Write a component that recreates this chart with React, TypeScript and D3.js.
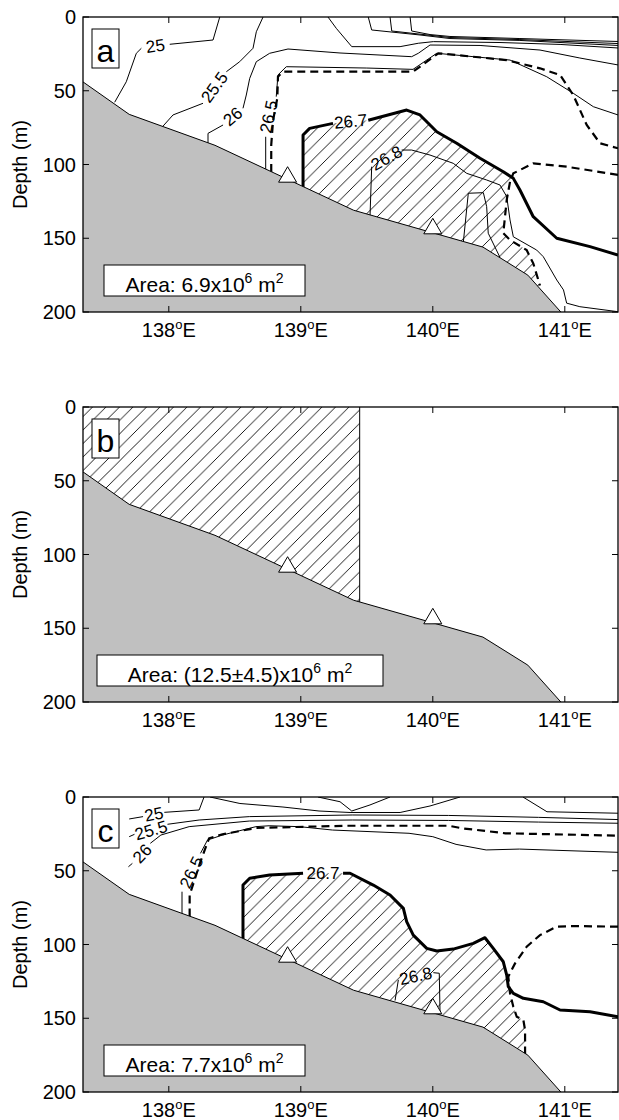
import * as d3 from "d3";

type P = [number, number] | null;

// axes
const lonDomain = [137.35, 141.403];
const lonTicks = [138, 139, 140, 141];
const depthTicks = [0, 50, 100, 150, 200];

// sea bed along the section and the two stations
const seabedLon = [137.35, 137.7, 138.35, 139.4, 140.38, 140.72, 140.97];
const seabedDepth = [44, 66, 87, 131, 156, 175, 200];
const stationLon = [138.9, 140.0];
const stationDepth = [112, 147];

const panelLetters = ["a", "b", "c"];
const areaValues = ["6.9", "(12.5\u00b14.5)", "7.7"];

// ---- panel a : contours (lon, depth), null = gap for a label
const a25: P[] = [[137.59, 57.8], [137.678, 43.9], [137.754, 24.6], [137.792, 21.2], null, [138.007, 18.5], [138.335, 15.6], [138.386, 0]];
const a255: P[] = [[137.951, 74.5], [138.032, 66.4], [138.259, 58.5], null, [138.436, 37.1], [138.537, 30.3], [138.638, 21.2], [138.663, 10], [138.714, 0]];
const a26: P[] = [[138.297, 86], [138.297, 78.9], [138.411, 73.2], null, [138.562, 61.9], [138.587, 52.9], [138.613, 41.6], [138.663, 30.3], [138.764, 24.6], [138.903, 21.7], [139.297, 24.4], [139.84, 26.9], [139.89, 24.6], [139.979, 19], [140.358, 19.3], [140.812, 22.4], [141.114, 27.8], [141.403, 32.5]];
const aTop1: P[] = [[139.206, 0], [139.269, 7.7], [139.386, 20.1], [139.752, 20.1], [139.89, 17.8], [140.004, 16.7], [140.509, 17.3], [140.964, 18.6], [141.403, 21]];
const aTop2: P[] = [[139.511, 0], [139.537, 8.8], [139.903, 12.2], [140.13, 14.6], [140.66, 15.9], [141.403, 19.3]];
const aTop3: P[] = [[139.676, 0], [139.689, 9.5], [140.13, 13.9], [140.66, 15.3], [141.403, 18]];
const aTop4: P[] = [[139.828, 0], [139.84, 9.5], [139.979, 11.9], [140.13, 13.2], [140.66, 14.6], [141.403, 16.6]];
const a265: P[] = [[138.734, 104], [138.734, 81.2], null, [138.814, 54], [138.827, 39.3], [138.89, 33.7], [139.1, 34], [139.5, 34.6], [139.85, 35.5], [140.03, 24.6], [140.585, 29.2], [140.863, 40.5], [141.064, 51.7], [141.216, 60.8], [141.403, 66.4]];
const aDashUp: P[] = [[138.776, 105], [138.776, 86.8], [138.79, 70], [138.822, 55.1], [138.827, 40.5], [138.865, 37.1], [139.85, 37.1], [140.042, 24.6], [140.56, 29.2], [140.812, 34.8], [140.964, 39.3], [141.064, 52.9], [141.166, 73.2], [141.267, 85.6], [141.403, 89]];
const a267: P[] = [[139.017, 117], [139.017, 80], [139.067, 75.5], [139.244, 72.1], null, [139.511, 70], [139.802, 63.1], [139.903, 66.4], [140.03, 77.8], [140.181, 85.6], [140.358, 95.8], [140.534, 104.9], [140.61, 109.4], [140.66, 117.3], [140.761, 135.4], [140.939, 150], [141.191, 155.7], [141.403, 161.4]];
const a268: P[] = [[139.524, 136], [139.537, 101.5], null, [139.764, 90.2], [139.84, 90.2], [139.979, 93.6], [140.155, 99.2], [140.257, 106], [140.408, 110.5], [140.509, 113.9], [140.56, 121.8], [140.585, 137.6], [140.61, 149], [140.787, 158], [140.837, 162.5], [140.939, 178.3], [140.99, 185], [141.014, 194], [141.114, 196.4], [141.403, 199.8]];
const aLoop: P[] = [[140.231, 153], [140.269, 119.5], [140.383, 119.1], [140.408, 128.6], [140.42, 146.6], [140.509, 163]];
const aDashLow: P[] = [[141.403, 107], [141.014, 101.5], [140.761, 99.2], [140.61, 106], [140.585, 111.7], [140.56, 124], [140.534, 146.6], [140.585, 151.2], [140.711, 158], [140.761, 167], [140.812, 182]];
const aLabels = [
  { t: "25", lon: 137.899, dep: 19.9, rot: -8 },
  { t: "25.5", lon: 138.348, dep: 47.8, rot: -54 },
  { t: "26", lon: 138.486, dep: 67.6, rot: -40 },
  { t: "26.5", lon: 138.76, dep: 67.6, rot: -78 },
  { t: "26.7", lon: 139.378, dep: 71, rot: -5 },
  { t: "26.8", lon: 139.651, dep: 95.8, rot: -29 },
];

// ---- panel b : hatched column
const bPatchLon = [137.35, 139.446];

// ---- panel c
const c25: P[] = [[137.7, 14.9], [137.805, 13.3], null, [137.966, 10.4], [138.23, 8.8], [138.267, 0]];
const c255: P[] = [[137.7, 26.9], [137.74, 25.3], null, [137.99, 18.5], [138.23, 15.6], [138.61, 13.3], [139.39, 12.2], [140.12, 12.5], [140.8, 13.8], [141.403, 15.3]];
const c26: P[] = [[137.694, 47.3], [137.724, 45], null, [137.86, 31.4], [137.94, 25.8], [138.154, 20.1], [138.61, 16.3], [139.39, 15.6], [140.12, 15.9], [140.8, 17], [141.403, 17.8]];
const cTop1: P[] = [[138.312, 0], [138.539, 4.4], [138.865, 6.8], [139.138, 9.5], [139.373, 10.5], [139.752, 10.5], [139.979, 6.1], [140.206, 0]];
const cTop2: P[] = [[139.13, 0], [139.297, 3.2], [139.386, 9.5], [139.524, 5.4], [139.676, 0]];
const cTop3: P[] = [[140.683, 0], [140.865, 10], [141.403, 11]];
const c265: P[] = [[138.1, 80], [138.1, 64.2], null, [138.24, 38.2], [138.293, 29.2], [138.406, 25.8], [138.66, 20.1], [138.76, 19.5], [138.99, 20.1], [139.24, 22.4], [139.82, 24.6], [140.0, 26.9], [140.176, 32.1], [140.404, 35.9], [140.656, 35.3], [141.403, 37.5]];
const cDashUp: P[] = [[138.158, 81], [138.158, 66.4], [138.24, 43.8], [138.305, 28], [138.406, 25.3], [138.66, 21], [139.34, 19.5], [140.12, 19.5], [140.22, 21.2], [140.55, 24.6], [141.403, 26.2]];
const c267: P[] = [[138.562, 97], [138.562, 59.7], [138.613, 55.1], [138.764, 52.9], [139.017, 51.7], null, [139.32, 51.7], [139.373, 51.7], [139.549, 59.7], [139.676, 66.4], [139.777, 75.5], [139.802, 84.5], [139.852, 93.6], [139.954, 102.6], [140.03, 104.4], [140.155, 103.1], [140.307, 99.2], [140.395, 95.4], [140.458, 102.6], [140.534, 111.7], [140.56, 120.7], [140.572, 128.6], [140.61, 133.1], [140.686, 136.5], [140.837, 138.8], [140.964, 144.4], [141.191, 145.6], [141.403, 149]];
const c268: P[] = [[139.714, 138], [139.739, 124], null, [140.004, 119.1], [140.049, 119.5], [140.055, 147.5]];
const cDashLow: P[] = [[141.403, 87.9], [141.064, 87.5], [140.939, 87.9], [140.812, 93.6], [140.711, 101.5], [140.623, 112.8], [140.572, 121.8], [140.585, 133.1], [140.61, 142.2], [140.636, 149], [140.686, 151.2], [140.699, 158], [140.699, 175]];
const cLabels = [
  { t: "25", lon: 137.887, dep: 11.9, rot: -11 },
  { t: "25.5", lon: 137.867, dep: 22.8, rot: -16 },
  { t: "26", lon: 137.8, dep: 38.5, rot: -47 },
  { t: "26.5", lon: 138.174, dep: 51.2, rot: -64 },
  { t: "26.7", lon: 139.168, dep: 51.7, rot: 0 },
  { t: "26.8", lon: 139.871, dep: 121.6, rot: -12 },
];

const closeToBottom = (pts: P[]) => {
  const p = pts.filter(Boolean) as [number, number][];
  return [...p, [p[p.length - 1][0], 200], [p[0][0], 200]] as [number, number][];
};

const panels = [
  {
    lines: [
      { d: a25, k: "thin" }, { d: a255, k: "thin" }, { d: a26, k: "thin" },
      { d: aTop1, k: "thin" }, { d: aTop2, k: "thin" }, { d: aTop3, k: "thin" }, { d: aTop4, k: "thin" },
      { d: a265, k: "thin" }, { d: aDashUp, k: "dash" }, { d: a268, k: "thin" }, { d: aLoop, k: "thin" },
      { d: aDashLow, k: "dash" }, { d: a267, k: "thick" },
    ],
    patch: closeToBottom([...a267.slice(0, 12), ...aDashLow.slice(3)]),
    labels: aLabels,
  },
  {
    lines: [{ d: [[bPatchLon[1], 0], [bPatchLon[1], 200]] as P[], k: "thin" }],
    patch: [[bPatchLon[0], 0], [bPatchLon[1], 0], [bPatchLon[1], 200], [bPatchLon[0], 200]] as [number, number][],
    labels: [],
  },
  {
    lines: [
      { d: c25, k: "thin" }, { d: c255, k: "thin" }, { d: c26, k: "thin" },
      { d: cTop1, k: "thin" }, { d: cTop2, k: "thin" }, { d: cTop3, k: "thin" },
      { d: c265, k: "thin" }, { d: cDashUp, k: "dash" }, { d: c268, k: "thin" },
      { d: cDashLow, k: "dash" }, { d: c267, k: "thick" },
    ],
    patch: closeToBottom([...c267.slice(0, 21), ...cDashLow.slice(6)]),
    labels: cLabels,
  },
];

const lineStyle: Record<string, any> = {
  thin: { strokeWidth: 1 },
  thick: { strokeWidth: 3, strokeLinejoin: "round" },
  dash: { strokeWidth: 2.2, strokeDasharray: "8 5" },
};

export default function App() {
  const W = 619, H = 1120;
  const left = 83, right = 618, ph = 295;
  const tops = [17, 407, 797];
  const x = d3.scaleLinear().domain(lonDomain).range([left, right]);
  const font = '"Liberation Sans", Arial, Helvetica, sans-serif';

  return (
    <svg width={W} height={H} style={{ position: "absolute", left: 0, top: 0, background: "#fff" }} fontFamily={font}>
      <defs>
        <pattern id="hatch" patternUnits="userSpaceOnUse" width={13.5} height={13.5}>
          <path d="M-1,1 L1,-1 M0,13.5 L13.5,0 M12.5,14.5 L14.5,12.5" stroke="#000" strokeWidth={0.9} />
        </pattern>
        {tops.map((t, i) => (
          <clipPath id={`clip${i}`} key={i}>
            <rect x={left} y={t} width={right - left} height={ph} />
          </clipPath>
        ))}
      </defs>
      {panels.map((pn, i) => {
        const top = tops[i];
        const y = d3.scaleLinear().domain([0, 200]).range([top, top + ph]);
        const line = d3.line<P>().defined((d) => d !== null).x((d) => x(d![0])).y((d) => y(d![1]));
        const seabed = seabedLon.map((l, j) => [l, seabedDepth[j]] as P);
        const seabedArea = d3.area<P>().x((d) => x(d![0])).y0(y(200)).y1((d) => y(d![1]));
        const patchPath = d3.line<[number, number]>().x((d) => x(d[0])).y((d) => y(d[1]))(pn.patch) + "Z";
        const areaBoxW = i === 1 ? 286 : 201;
        const areaBoxX = i === 1 ? 97 : 104;
        return (
          <g key={i}>
            <g clipPath={`url(#clip${i})`}>
              <path d={patchPath} fill="url(#hatch)" />
              {pn.lines.map((ln, j) => (
                <path key={j} d={line(ln.d) || ""} fill="none" stroke="#000" {...lineStyle[ln.k]} />
              ))}
              <path d={seabedArea(seabed) || ""} fill="#c0c0c0" />
              <path d={line(seabed) || ""} fill="none" stroke="#000" strokeWidth={1} />
              {stationLon.map((l, j) => {
                const cx = x(l), cy = y(stationDepth[j]);
                return <path key={j} d={`M${cx - 9},${cy} L${cx + 9},${cy} L${cx},${cy - 15.5} Z`} fill="#fff" stroke="#000" strokeWidth={1} />;
              })}
              {pn.labels.map((lb, j) => (
                <text key={j} transform={`translate(${x(lb.lon)},${y(lb.dep)}) rotate(${lb.rot})`} textAnchor="middle" dominantBaseline="central" fontSize={17}>{lb.t}</text>
              ))}
            </g>
            {/* letter box */}
            <rect x={92} y={top + 12} width={27} height={39} fill="#fff" stroke="#000" strokeWidth={1} />
            <text x={105.5} y={top + 44.5} textAnchor="middle" fontSize={32}>{panelLetters[i]}</text>
            {/* area box */}
            <rect x={areaBoxX} y={top + 248} width={areaBoxW} height={31} fill="#fff" stroke="#000" strokeWidth={1} />
            <text x={areaBoxX + areaBoxW / 2} y={top + 275} textAnchor="middle" fontSize={21}>
              {`Area: ${areaValues[i]}x10`}
              <tspan dy={-9} fontSize={14}>6</tspan>
              <tspan dy={9}>{" m"}</tspan>
              <tspan dy={-9} fontSize={14}>2</tspan>
            </text>
            {/* frame and ticks */}
            <rect x={left} y={top} width={right - left} height={ph} fill="none" stroke="#000" strokeWidth={1.3} />
            {lonTicks.map((t) => (
              <g key={t}>
                <line x1={x(t)} x2={x(t)} y1={top} y2={top + 6} stroke="#000" strokeWidth={1} />
                <line x1={x(t)} x2={x(t)} y1={top + ph} y2={top + ph - 6} stroke="#000" strokeWidth={1} />
                <text x={x(t)} y={top + ph + 25} textAnchor="middle" fontSize={20}>
                  {t}
                  <tspan dy={-8} fontSize={13}>o</tspan>
                  <tspan dy={8}>E</tspan>
                </text>
              </g>
            ))}
            {depthTicks.map((t) => (
              <g key={t}>
                <line x1={left} x2={left + 6} y1={y(t)} y2={y(t)} stroke="#000" strokeWidth={1} />
                <line x1={right} x2={right - 6} y1={y(t)} y2={y(t)} stroke="#000" strokeWidth={1} />
                <text x={76} y={y(t)} textAnchor="end" dominantBaseline="central" fontSize={20}>{t}</text>
              </g>
            ))}
            <text transform={`translate(19.5,${top + ph / 2}) rotate(-90)`} textAnchor="middle" dominantBaseline="central" fontSize={20}>Depth (m)</text>
          </g>
        );
      })}
    </svg>
  );
}
